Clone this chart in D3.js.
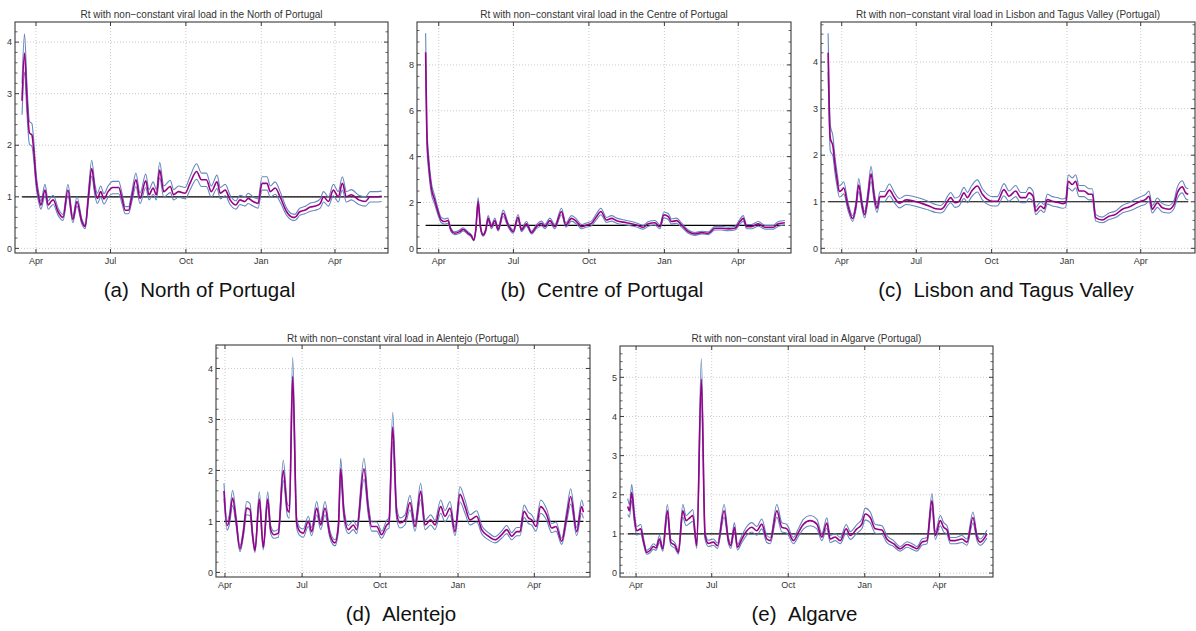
<!DOCTYPE html>
<html><head><meta charset="utf-8">
<script src="https://cdn.jsdelivr.net/npm/d3@7"></script>
<style>
body{margin:0;background:#fff}
svg{display:block;font-family:"Liberation Sans",Arial,Helvetica,sans-serif}
</style>
</head><body>
<svg id="chart" width="1196" height="631"></svg>
<script>
// ---------- tick labels ----------
const xTickDates = ["2020-04-01","2020-07-01","2020-10-01","2021-01-01","2021-04-01"];
const xTickLabels = ["Apr","Jul","Oct","Jan","Apr"];
const refLevel = 1;

// ---------- (a) North ---------- days are offsets from 1 Apr 2020
const northDays = [-17,-14,-11,-8,-5,-3,0,4,6,11,15,18,21,27,33,39,45,50,56,60,64,68,72,75,79,83,88,94,101,105,109,113,117,122,127,134,138,143,147,151,156,164,168,174,182,188,196,202,208,214,221,225,231,237,244,249,255,259,265,271,276,282,286,292,298,306,312,316,322,328,335,341,347,351,357,363,369,374,379,385,394,402,408,414,422];
const northRt = [2.86,3.79,2.90,2.24,2.20,1.95,1.35,0.94,0.84,1.13,0.84,0.90,0.94,0.71,0.60,1.13,0.56,0.91,0.52,0.42,1.00,1.55,1.13,0.97,1.10,0.96,1.10,1.18,1.18,0.97,0.74,0.74,1.00,1.33,0.97,1.31,1.04,1.17,1.04,1.52,1.10,1.20,1.04,1.10,1.07,1.26,1.49,1.33,1.33,1.10,1.29,1.07,1.13,0.94,0.84,0.94,0.91,0.97,0.91,0.87,1.26,1.26,1.10,1.17,1.00,0.71,0.61,0.60,0.71,0.74,0.80,0.82,0.87,1.00,0.91,1.13,1.00,1.26,1.00,1.04,0.94,0.91,1.00,1.00,1.01];
const northHi = [3.20,4.16,3.19,2.46,2.42,2.15,1.49,1.03,0.92,1.24,0.92,0.99,1.03,0.78,0.66,1.24,0.62,1.00,0.57,0.46,1.10,1.71,1.24,1.07,1.21,1.06,1.21,1.30,1.30,1.07,0.81,0.81,1.10,1.46,1.07,1.44,1.14,1.29,1.14,1.67,1.21,1.32,1.14,1.21,1.18,1.39,1.64,1.46,1.46,1.21,1.42,1.18,1.24,1.03,0.92,1.03,1.00,1.07,1.00,0.96,1.39,1.39,1.21,1.29,1.10,0.78,0.67,0.66,0.78,0.81,0.88,0.90,0.96,1.10,1.00,1.24,1.10,1.39,1.10,1.14,1.03,1.00,1.10,1.10,1.11];
const northLo = [2.59,3.42,2.61,2.02,1.98,1.76,1.22,0.85,0.76,1.02,0.76,0.81,0.85,0.64,0.54,1.02,0.50,0.82,0.47,0.38,0.90,1.40,1.02,0.87,0.99,0.86,0.99,1.06,1.06,0.87,0.67,0.67,0.90,1.20,0.87,1.18,0.94,1.05,0.94,1.37,0.99,1.08,0.94,0.99,0.96,1.13,1.34,1.20,1.20,0.99,1.16,0.96,1.02,0.85,0.76,0.85,0.82,0.87,0.82,0.78,1.13,1.13,0.99,1.05,0.90,0.64,0.55,0.54,0.64,0.67,0.72,0.74,0.78,0.90,0.82,1.02,0.90,1.13,0.90,0.94,0.85,0.82,0.90,0.90,0.91];

// ---------- (b) Centre ----------
const centreDays = [-16,-14.5,-12,-9,-5,-1,3,7,11,15,19.5,25.6,29.7,35.8,39.8,42.7,45.1,48,50.8,54,57.3,60.2,64.2,68.3,72.4,78.5,84.6,90.7,96.7,100.8,106.9,113,119.1,125.2,129.3,135.4,141.5,149.6,154.9,161.8,167.9,174,180.1,186.2,192.3,197.6,204.5,210.6,216.7,228.9,241.1,249.2,255.3,263.4,269.5,274.4,279.7,283.7,289.8,295.9,304.1,312.2,320.3,328.5,336.6,344.7,352.8,361,367.1,371.1,375.2,381.3,389.4,397.6,407.7,413.8,421.9];
const centreRt = [8.55,5.00,3.58,2.63,2.12,1.61,1.24,1.17,1.21,0.80,0.66,0.73,0.83,0.66,0.54,0.36,0.80,2.04,0.95,0.58,0.80,1.31,0.95,1.21,0.83,1.53,1.02,0.73,1.36,0.80,1.07,0.69,0.95,1.09,0.95,1.21,0.95,1.61,1.02,1.31,1.17,0.95,1.02,1.09,1.39,1.61,1.24,1.31,1.21,1.12,1.02,0.92,1.07,1.12,0.95,1.46,1.39,1.17,1.21,1.02,0.73,0.63,0.69,0.66,0.88,0.88,0.85,0.88,1.17,1.31,0.95,0.95,1.07,0.92,0.92,1.07,1.12];
const centreHi = [9.38,5.45,3.90,2.87,2.31,1.75,1.35,1.28,1.32,0.87,0.72,0.80,0.90,0.72,0.59,0.39,0.87,2.22,1.04,0.63,0.87,1.43,1.04,1.32,0.90,1.67,1.11,0.80,1.48,0.87,1.17,0.75,1.04,1.19,1.04,1.32,1.04,1.75,1.11,1.43,1.28,1.04,1.11,1.19,1.52,1.75,1.35,1.43,1.32,1.22,1.11,1.00,1.17,1.22,1.04,1.59,1.52,1.28,1.32,1.11,0.80,0.69,0.75,0.72,0.96,0.96,0.93,0.96,1.28,1.43,1.04,1.04,1.17,1.00,1.00,1.17,1.22];
const centreLo = [7.73,4.55,3.26,2.39,1.93,1.47,1.13,1.06,1.10,0.73,0.60,0.66,0.76,0.60,0.49,0.33,0.73,1.86,0.86,0.53,0.73,1.19,0.86,1.10,0.76,1.39,0.93,0.66,1.24,0.73,0.97,0.63,0.86,0.99,0.86,1.10,0.86,1.47,0.93,1.19,1.06,0.86,0.93,0.99,1.26,1.47,1.13,1.19,1.10,1.02,0.93,0.84,0.97,1.02,0.86,1.33,1.26,1.06,1.10,0.93,0.66,0.57,0.63,0.60,0.80,0.80,0.77,0.80,1.06,1.19,0.86,0.86,0.97,0.84,0.84,0.97,1.02];

// ---------- (c) Lisbon and Tagus Valley ----------
const lisbonDays = [-16.6,-14,-10.7,-8.7,-5.9,-2.8,0,2.4,7.3,13.4,17.5,20.8,24.8,28,31.7,35.8,39.9,43.1,46.8,52.1,58.2,64.3,70.4,78.5,86.7,92.8,98.5,106.6,114.7,120.8,124.9,129,133,138.3,143.2,149.3,153.4,158.7,165.6,171.7,177.8,183.9,190,198.1,204.2,212.4,218.5,224.6,228.6,233.5,236.8,242.9,247,251,257.1,263.2,269.3,273.4,276.6,281.5,285.6,289.7,295.8,301.9,306,310,318.1,326.3,334.4,342.6,350.7,358.8,364.9,371,375.1,379.2,385.3,391.4,399.5,405.6,409.7,415.8,419.9,423.1];
const lisbonRt = [4.20,2.37,2.19,1.86,1.50,1.22,1.25,1.30,0.93,0.64,0.93,1.36,0.93,0.72,1.08,1.60,1.08,0.86,1.11,1.11,1.25,1.09,0.97,1.04,1.02,0.99,0.96,0.91,0.85,0.84,0.89,1.01,1.09,0.98,1.01,1.19,1.09,1.23,1.34,1.16,1.05,1.01,1.01,1.26,1.12,1.23,1.09,1.09,1.19,1.12,0.80,0.91,0.85,1.05,1.01,0.99,0.96,0.98,1.44,1.37,1.44,1.23,1.23,1.16,1.16,0.66,0.61,0.69,0.73,0.84,0.89,0.96,1.01,1.05,1.12,0.84,0.98,0.87,0.84,0.94,1.19,1.32,1.19,1.16];
const lisbonHi = [4.62,2.65,2.40,2.04,1.65,1.34,1.38,1.43,1.02,0.70,1.02,1.50,1.02,0.79,1.19,1.76,1.19,0.95,1.22,1.22,1.38,1.20,1.07,1.14,1.12,1.09,1.06,1.00,0.94,0.92,0.98,1.11,1.20,1.08,1.11,1.31,1.20,1.35,1.47,1.28,1.16,1.11,1.11,1.39,1.23,1.35,1.20,1.20,1.31,1.23,0.88,1.00,0.94,1.16,1.11,1.09,1.06,1.08,1.58,1.51,1.58,1.35,1.35,1.28,1.28,0.73,0.67,0.76,0.80,0.92,0.98,1.06,1.11,1.16,1.23,0.92,1.08,0.96,0.92,1.03,1.31,1.45,1.31,1.28];
const lisbonLo = [3.78,2.10,1.98,1.68,1.35,1.10,1.13,1.17,0.84,0.58,0.84,1.22,0.84,0.65,0.97,1.44,0.97,0.77,1.00,1.00,1.13,0.98,0.87,0.94,0.92,0.89,0.86,0.82,0.77,0.76,0.80,0.91,0.98,0.88,0.91,1.07,0.98,1.11,1.21,1.04,0.95,0.91,0.91,1.13,1.01,1.11,0.98,0.98,1.07,1.01,0.72,0.82,0.77,0.95,0.91,0.89,0.86,0.88,1.30,1.23,1.30,1.11,1.11,1.04,1.04,0.59,0.55,0.62,0.66,0.76,0.80,0.86,0.91,0.95,1.01,0.76,0.88,0.78,0.76,0.85,1.07,1.19,1.07,1.04];

// ---------- (d) Alentejo ----------
const alentejoDays = [-1.2,2.5,5.1,9,13,17.7,21.6,25.6,29.5,32.7,35.4,40.5,45.2,50.4,53.9,57.8,62.9,68.8,73.6,75.9,79.9,84.6,88.5,92.4,98.3,102.3,108.2,112.9,118,123.9,129.8,133.8,136.5,140.4,145.6,151.5,155.4,164,169.2,173.1,179,184.9,190.8,193.5,197.9,202.6,206.5,212.4,218.3,224.2,230.9,236,242.7,247.8,254.5,259.6,265.5,271.4,277.3,283.2,289.1,297,302.9,310.8,318.6,326.5,332.4,338.3,344.2,348.1,352.9,358,361.9,367,372.5,379.6,385.5,390.6,397.3,403.2,407.9,415,420.9,422.9];
const alentejoRt = [1.60,0.92,1.03,1.46,1.03,0.46,0.77,1.26,1.23,0.71,0.43,1.44,0.49,1.44,0.84,0.74,0.77,2.00,1.23,1.18,3.84,0.97,0.80,0.77,1.00,0.80,1.26,0.93,1.26,0.74,0.58,0.90,2.03,1.16,0.84,0.93,0.84,2.03,1.23,0.90,0.90,0.74,0.93,0.97,2.85,1.16,0.97,1.03,1.37,0.90,1.59,0.93,1.03,0.93,1.29,1.10,1.26,0.80,1.53,1.29,1.03,1.10,0.84,0.71,0.64,0.74,0.84,0.71,0.80,0.80,1.20,1.07,1.03,0.90,1.29,1.13,0.87,0.90,0.61,1.10,1.49,0.80,1.29,1.18];
const alentejoHi = [1.75,1.01,1.13,1.61,1.13,0.51,0.85,1.39,1.35,0.78,0.47,1.58,0.54,1.58,0.92,0.81,0.85,2.20,1.35,1.30,4.22,1.07,0.88,0.85,1.10,0.88,1.39,1.02,1.39,0.81,0.64,0.99,2.24,1.28,0.92,1.02,0.92,2.24,1.35,0.99,0.99,0.81,1.02,1.07,3.14,1.28,1.07,1.13,1.51,0.99,1.75,1.02,1.13,1.02,1.42,1.21,1.39,0.88,1.68,1.42,1.13,1.21,0.92,0.78,0.70,0.81,0.92,0.78,0.88,0.88,1.32,1.18,1.13,0.99,1.42,1.24,0.96,0.99,0.67,1.21,1.64,0.88,1.42,1.30];
const alentejoLo = [1.45,0.83,0.93,1.31,0.93,0.41,0.69,1.13,1.11,0.64,0.39,1.30,0.44,1.30,0.76,0.67,0.69,1.80,1.11,1.06,3.46,0.87,0.72,0.69,0.90,0.72,1.13,0.84,1.13,0.67,0.52,0.81,1.83,1.04,0.76,0.84,0.76,1.83,1.11,0.81,0.81,0.67,0.84,0.87,2.57,1.04,0.87,0.93,1.23,0.81,1.43,0.84,0.93,0.84,1.16,0.99,1.13,0.72,1.38,1.16,0.93,0.99,0.76,0.64,0.58,0.67,0.76,0.64,0.72,0.72,1.08,0.96,0.93,0.81,1.16,1.02,0.78,0.81,0.55,0.99,1.34,0.72,1.16,1.06];

// ---------- (e) Algarve ----------
const algarveDays = [-10,-8,-5.2,-2,0.8,5.6,8.8,12.8,16.8,20.9,24.1,28.1,32.1,37.7,41.7,46.9,50.9,56.2,60.2,65,68.2,73,78.5,83,87,93,97.9,105.9,111.1,113.9,118.3,121.9,127.2,133.2,139.2,145.2,151.2,157.2,161.3,169.3,175.3,181.3,189.3,195.3,201.4,209.4,217.4,223.4,229.4,233.5,239.5,245.5,252.7,257.5,265.5,271.5,275.5,281.6,287.6,295.6,301.6,309.6,317.7,325.7,333.7,337.7,343.8,349.8,355.8,359.8,365.8,369.9,373.9,377.9,383.9,391.9,397.9,405.1,409.9,413.9,421.9];
const algarveRt = [1.70,1.59,2.06,1.42,1.08,1.13,0.83,0.53,0.58,0.68,0.64,0.87,0.62,1.59,0.79,0.70,0.53,1.59,1.34,1.42,1.47,0.70,4.95,0.96,0.76,0.79,0.70,1.59,0.83,0.70,1.17,0.66,0.87,1.08,1.17,1.08,1.25,0.87,0.83,1.59,1.17,1.13,0.83,1.04,1.25,1.34,1.25,0.92,1.28,0.87,0.92,0.83,1.13,0.96,1.13,1.25,1.51,1.42,1.13,1.10,0.87,0.75,0.62,0.73,0.66,0.62,0.79,0.83,1.85,0.96,1.34,1.17,1.10,0.83,0.83,0.87,0.79,1.42,0.92,0.79,1.00];
const algarveHi = [1.90,1.75,2.27,1.56,1.19,1.24,0.91,0.58,0.64,0.75,0.70,0.96,0.68,1.75,0.87,0.77,0.58,1.75,1.47,1.56,1.62,0.77,5.47,1.06,0.84,0.87,0.77,1.75,0.91,0.77,1.29,0.73,0.96,1.19,1.29,1.19,1.38,0.96,0.91,1.75,1.29,1.24,0.91,1.14,1.38,1.47,1.38,1.01,1.41,0.96,1.01,0.91,1.24,1.06,1.24,1.38,1.66,1.56,1.24,1.21,0.96,0.83,0.68,0.80,0.73,0.68,0.87,0.91,2.03,1.06,1.47,1.29,1.21,0.91,0.91,0.96,0.87,1.56,1.01,0.87,1.10];
const algarveLo = [1.50,1.43,1.85,1.28,0.97,1.02,0.75,0.48,0.52,0.61,0.58,0.78,0.56,1.43,0.71,0.63,0.48,1.43,1.21,1.28,1.32,0.63,4.45,0.86,0.68,0.71,0.63,1.43,0.75,0.63,1.05,0.59,0.78,0.97,1.05,0.97,1.13,0.78,0.75,1.43,1.05,1.02,0.75,0.94,1.13,1.21,1.13,0.83,1.15,0.78,0.83,0.75,1.02,0.86,1.02,1.13,1.36,1.28,1.02,0.99,0.78,0.68,0.56,0.66,0.59,0.56,0.71,0.75,1.67,0.86,1.21,1.05,0.99,0.75,0.75,0.78,0.71,1.28,0.83,0.71,0.90];

// ---------- layout ----------
const panels = [
  {title:"Rt with non\u2212constant viral load in the North of Portugal", tag:"(a)", name:"North of Portugal",
   days:northDays, rt:northRt, hi:northHi, lo:northLo,
   box:[15,22,388,253], xDom:[-25.6,429.7], yDom:[-0.09,4.39], yMajor:[0,1,2,3,4], yMinor:0.2, titleY:18, capY:297},
  {title:"Rt with non\u2212constant viral load in the Centre of Portugal", tag:"(b)", name:"Centre of Portugal",
   days:centreDays, rt:centreRt, hi:centreHi, lo:centreLo,
   box:[417,22,791,253], xDom:[-26.5,429.3], yDom:[-0.2,9.87], yMajor:[0,2,4,6,8], yMinor:0.5, titleY:18, capY:297},
  {title:"Rt with non\u2212constant viral load in Lisbon and Tagus Valley (Portugal)", tag:"(c)", name:"Lisbon and Tagus Valley",
   days:lisbonDays, rt:lisbonRt, hi:lisbonHi, lo:lisbonLo,
   box:[821,22,1195,253], xDom:[-25.3,431.3], yDom:[-0.1,4.86], yMajor:[0,1,2,3,4], yMinor:0.2, titleY:18, capY:297},
  {title:"Rt with non\u2212constant viral load in Alentejo (Portugal)", tag:"(d)", name:"Alentejo",
   days:alentejoDays, rt:alentejoRt, hi:alentejoHi, lo:alentejoLo,
   box:[216,345,590,577], xDom:[-10.6,430.7], yDom:[-0.09,4.46], yMajor:[0,1,2,3,4], yMinor:0.2, titleY:342, capY:621},
  {title:"Rt with non\u2212constant viral load in Algarve (Portugal)", tag:"(e)", name:"Algarve",
   days:algarveDays, rt:algarveRt, hi:algarveHi, lo:algarveLo,
   box:[620,346,993,577], xDom:[-19.3,429.2], yDom:[-0.1,5.8], yMajor:[0,1,2,3,4,5], yMinor:0.2, titleY:342, capY:621}
];

const DAY = 86400000;
const origin = new Date(Date.UTC(2020,3,1));
const toDate = d => new Date(origin.getTime() + d*DAY);
const tickDates = xTickDates.map(s => new Date(s + "T00:00:00Z"));

const svg = d3.select("#chart");
const frameColor = "#3a3a3a", textColor = "#333";
const blue = "#5e81b5", magenta = "#99008a";

panels.forEach((p, i) => {
  const [x0,y0,x1,y1] = p.box;
  const x = d3.scaleUtc().domain(p.xDom.map(toDate)).range([x0,x1]);
  const y = d3.scaleLinear().domain(p.yDom).range([y1,y0]);
  const g = svg.append("g");

  g.append("clipPath").attr("id","clip"+i).append("rect")
    .attr("x",x0).attr("y",y0).attr("width",x1-x0).attr("height",y1-y0);

  // grid
  g.append("g").selectAll("line").data(tickDates).join("line")
    .attr("x1",d=>x(d)).attr("x2",d=>x(d)).attr("y1",y0).attr("y2",y1)
    .attr("stroke","#c4c4c4").attr("stroke-width",0.9).attr("stroke-dasharray","1,2");
  g.append("g").selectAll("line").data(p.yMajor).join("line")
    .attr("x1",x0).attr("x2",x1).attr("y1",d=>y(d)).attr("y2",d=>y(d))
    .attr("stroke","#c4c4c4").attr("stroke-width",0.9).attr("stroke-dasharray","1,2");

  const pts = arr => p.days.map((d,k)=>[toDate(d), arr[k]]);
  const line = d3.line().x(d=>x(d[0])).y(d=>y(d[1])).curve(d3.curveMonotoneX);
  const plot = g.append("g").attr("clip-path","url(#clip"+i+")");

  // reference line Rt = 1 across data range
  plot.append("line")
    .attr("x1",x(toDate(p.days[0]))).attr("x2",x(toDate(p.days[p.days.length-1])))
    .attr("y1",y(refLevel)).attr("y2",y(refLevel))
    .attr("stroke","#000").attr("stroke-width",1.2);

  [p.hi,p.lo].forEach(arr => {
    plot.append("path").datum(pts(arr)).attr("d",line)
      .attr("fill","none").attr("stroke",blue).attr("stroke-width",1.1).attr("stroke-opacity",0.95);
  });
  plot.append("path").datum(pts(p.rt)).attr("d",line)
    .attr("fill","none").attr("stroke",magenta).attr("stroke-width",1.6);

  // frame
  g.append("rect").attr("x",x0).attr("y",y0).attr("width",x1-x0).attr("height",y1-y0)
    .attr("fill","none").attr("stroke",frameColor).attr("stroke-width",1.1);

  // x ticks (bottom and top, inside)
  const xt = g.append("g");
  tickDates.forEach(d => {
    xt.append("line").attr("x1",x(d)).attr("x2",x(d)).attr("y1",y1).attr("y2",y1-4).attr("stroke",frameColor);
    xt.append("line").attr("x1",x(d)).attr("x2",x(d)).attr("y1",y0).attr("y2",y0+4).attr("stroke",frameColor);
  });
  g.append("g").selectAll("text").data(tickDates).join("text")
    .attr("x",d=>x(d)).attr("y",y1+11).attr("text-anchor","middle")
    .attr("font-size",9).attr("fill",textColor).text((d,k)=>xTickLabels[k]);

  // y ticks
  const yt = g.append("g");
  const minorVals = d3.range(Math.ceil(p.yDom[0]/p.yMinor)*p.yMinor, p.yDom[1], p.yMinor)
    .filter(v => !p.yMajor.some(m => Math.abs(m-v) < 1e-6));
  minorVals.forEach(v => {
    yt.append("line").attr("x1",x0).attr("x2",x0+2.5).attr("y1",y(v)).attr("y2",y(v)).attr("stroke",frameColor).attr("stroke-width",0.8);
    yt.append("line").attr("x1",x1).attr("x2",x1-2.5).attr("y1",y(v)).attr("y2",y(v)).attr("stroke",frameColor).attr("stroke-width",0.8);
  });
  p.yMajor.forEach(v => {
    yt.append("line").attr("x1",x0).attr("x2",x0+4).attr("y1",y(v)).attr("y2",y(v)).attr("stroke",frameColor);
    yt.append("line").attr("x1",x1).attr("x2",x1-4).attr("y1",y(v)).attr("y2",y(v)).attr("stroke",frameColor);
  });
  g.append("g").selectAll("text").data(p.yMajor).join("text")
    .attr("x",x0-3).attr("y",d=>y(d)+3.2).attr("text-anchor","end")
    .attr("font-size",9).attr("fill",textColor).text(d=>d);

  // title
  g.append("text").attr("x",(x0+x1)/2).attr("y",p.titleY).attr("text-anchor","middle")
    .attr("font-size",10).attr("fill",textColor).text(p.title);

  // caption
  g.append("text").attr("x",(x0+x1)/2 - 2).attr("y",p.capY).attr("text-anchor","middle")
    .attr("font-size",20.5).attr("fill","#111").text(p.tag + "\u00a0\u00a0" + p.name);
});
</script>
</body></html>
